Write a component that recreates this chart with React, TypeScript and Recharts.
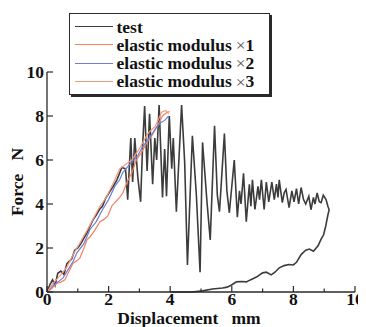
import { LineChart, Line, XAxis, YAxis, Legend } from "recharts";

// test curve (displacement mm, force N), loading -> fracture -> unloading
const testDisp = [
  0, 0.1, 0.18, 0.26, 0.35, 0.45, 0.55, 0.65, 0.8, 0.9, 1.0, 1.1, 1.2, 1.3, 1.4, 1.5, 1.6, 1.7, 1.8, 1.9,
  2.04, 2.15, 2.27, 2.43, 2.55, 2.62, 2.72, 2.78, 2.85, 2.95, 3.04, 3.1, 3.17, 3.25, 3.33, 3.43, 3.5, 3.56,
  3.64, 3.75, 3.82, 3.88, 3.97, 4.05, 4.1, 4.2, 4.37, 4.47, 4.56, 4.72, 4.85, 4.97, 5.05, 5.2, 5.3, 5.44,
  5.53, 5.6, 5.76, 5.84, 5.92, 6.08, 6.18, 6.25, 6.3, 6.38, 6.47, 6.57, 6.62, 6.67, 6.75, 6.85, 6.9, 6.96,
  7.05, 7.12, 7.2, 7.3, 7.38, 7.45, 7.5, 7.54, 7.64, 7.7, 7.76, 7.86, 7.95, 8.02, 8.1, 8.17, 8.25, 8.33,
  8.4, 8.5, 8.57, 8.65, 8.7, 8.77, 8.84, 8.9, 8.97, 9.06, 9.12, 9.16,
  9.12, 9.05, 8.98, 8.9, 8.8, 8.65, 8.52, 8.4, 8.25, 8.1, 8.0, 7.85, 7.7, 7.54, 7.4, 7.28, 7.12, 7.0, 6.8,
  6.6, 6.47, 6.3, 6.15, 5.99, 5.85, 5.7, 5.37, 5.05, 4.7, 4.3, 4.0,
];
const testForce = [
  0, 0.35, 0.55, 0.3, 0.85, 0.95, 0.8, 1.3, 1.5, 1.9, 2.0, 2.2, 2.45, 2.7, 3.0, 3.3, 3.5, 3.75, 3.9, 4.25,
  4.57, 4.8, 5.1, 5.66, 5.6, 4.2, 7.0, 5.0, 7.0, 5.2, 4.1, 6.5, 8.45, 5.5, 8.1, 4.9, 7.0, 6.0,
  8.5, 4.3, 6.5, 4.35, 8.0, 5.6, 7.0, 3.65, 8.5, 5.9, 1.23, 7.1, 4.4, 0.9, 6.8, 4.0, 2.37, 7.55,
  4.4, 3.65, 7.2, 4.6, 3.6, 6.0, 3.4, 4.6, 4.0, 5.4, 3.2, 4.9, 3.9, 5.1, 3.75, 4.8, 4.2, 5.1,
  3.75, 5.0, 4.1, 5.0, 4.2, 4.9, 4.3, 5.1, 4.06, 4.5, 4.66, 3.84, 4.6, 4.1, 4.7, 4.0, 4.75, 4.2,
  4.0, 4.35, 3.74, 4.3, 4.0, 4.5, 4.1, 4.06, 4.4, 4.2, 3.9, 3.74,
  3.5, 3.0, 2.6, 2.4, 2.1, 1.85, 1.95, 1.9, 1.7, 1.35, 1.23, 1.25, 1.2, 1.1, 0.9, 0.78, 0.9, 0.87, 0.68,
  0.55, 0.46, 0.48, 0.46, 0.32, 0.22, 0.18, 0.14, 0.05, 0, 0, 0,
];

// elastic modulus x1
const mod1Disp = [0, 0.15, 0.32, 0.45, 0.58, 0.7, 0.84, 1.0, 1.07, 1.2, 1.3, 1.39, 1.55, 1.72, 1.85, 1.97, 2.1, 2.2, 2.36, 2.46, 2.6, 2.75, 2.9, 3.05, 3.24, 3.4, 3.56, 3.75, 3.9, 3.98];
const mod1Force = [0, 0.15, 0.4, 0.45, 0.55, 0.9, 1.3, 1.45, 1.55, 2.0, 2.37, 2.5, 2.8, 3.2, 3.3, 3.45, 3.9, 4.06, 4.3, 4.5, 5.0, 5.4, 6.0, 6.3, 6.8, 7.1, 7.5, 8.0, 8.17, 8.2];

// elastic modulus x2
const mod2Disp = [0, 0.2, 0.35, 0.52, 0.7, 0.85, 0.97, 1.2, 1.39, 1.6, 1.8, 2.0, 2.2, 2.36, 2.46, 2.62, 2.78, 2.95, 3.1, 3.27, 3.42, 3.56, 3.7, 3.82, 3.95];
const mod2Force = [0, 0.3, 0.45, 0.64, 1.05, 1.4, 1.78, 2.2, 2.83, 3.2, 3.74, 4.2, 4.8, 5.1, 5.43, 5.7, 5.95, 6.2, 6.6, 6.9, 7.2, 7.5, 7.7, 7.8, 8.0];

// elastic modulus x3
const mod3Disp = [0, 0.2, 0.4, 0.65, 0.85, 1.07, 1.3, 1.49, 1.7, 1.94, 2.15, 2.36, 2.55, 2.75, 2.95, 3.15, 3.3, 3.5, 3.62, 3.72, 3.85, 3.95];
const mod3Force = [0, 0.4, 0.7, 1.14, 1.7, 2.24, 2.8, 3.3, 3.85, 4.34, 4.95, 5.6, 5.8, 6.0, 6.4, 6.9, 7.25, 7.5, 7.85, 8.17, 8.25, 8.1];

const seriesNames = ["test", "elastic modulus", "elastic modulus", "elastic modulus"];
const seriesFactors = ["", "1", "2", "3"];
const seriesColors = ["#3c3c3c", "#f3805e", "#6f7ed2", "#f59c7e"];
const axisTicks = [0, 1, 2, 3, 4, 5, 6, 7, 8, 9, 10];

const toPoints = (xs: number[], ys: number[]) => xs.map((x, i) => ({ x, y: ys[i] }));
const testData = toPoints(testDisp, testForce);
const mod1Data = toPoints(mod1Disp, mod1Force);
const mod2Data = toPoints(mod2Disp, mod2Force);
const mod3Data = toPoints(mod3Disp, mod3Force);

const font = "'Liberation Serif', 'Times New Roman', serif";
const ink = "#2a2a2a";
const labelStyle = { fontFamily: font, fontWeight: 700, fontSize: 17.5, fill: "#111" };

const isMajor = (v: number) => v % 2 === 0;

const LeftTick = ({ x, y, payload }: any) => (
  <g>
    <line x1={x} x2={x + (isMajor(payload.value) ? 6 : 3.5)} y1={y} y2={y} stroke={ink} strokeWidth={1.2} />
    {isMajor(payload.value) && (
      <text x={x - 3} y={y} dy="0.36em" textAnchor="end" style={labelStyle}>
        {payload.value}
      </text>
    )}
  </g>
);

const RightTick = ({ x, y, payload }: any) => (
  <line x1={x} x2={x - (isMajor(payload.value) ? 6 : 4)} y1={y} y2={y} stroke={ink} strokeWidth={1.2} />
);

const BottomTick = ({ x, y, payload }: any) => (
  <g>
    <line x1={x} x2={x} y1={y} y2={y - (isMajor(payload.value) ? 6 : 3.5)} stroke={ink} strokeWidth={1.2} />
    {isMajor(payload.value) && (
      <text x={x} y={y + 13} textAnchor="middle" style={labelStyle}>
        {payload.value}
      </text>
    )}
  </g>
);

const TopTick = ({ x, y, payload }: any) => (
  <line x1={x} x2={x} y1={y} y2={y + (isMajor(payload.value) ? 6 : 3.5)} stroke={ink} strokeWidth={1.2} />
);

const LegendBox = () => (
  <div
    style={{
      boxSizing: "border-box",
      width: 201,
      height: 82,
      border: `1.5px solid ${ink}`,
      boxShadow: `2px 2px 0 ${ink}`,
      background: "#fff",
      padding: "3.5px 0 0 4.5px",
      fontFamily: font,
      fontWeight: 700,
      fontSize: 17.5,
      lineHeight: "18.3px",
      color: "#111",
      overflow: "hidden",
    }}
  >
    {seriesNames.map((name, i) => (
      <div key={i} style={{ display: "flex", alignItems: "center", whiteSpace: "nowrap", height: 18.3 }}>
        <span style={{ display: "inline-block", width: 38, borderTop: `1.5px solid ${seriesColors[i]}`, marginRight: 4 }} />
        <span>{name}</span>
        {seriesFactors[i] && (
          <span style={{ fontWeight: 400, fontSize: 17.5, lineHeight: "16px", color: "#555", marginLeft: 4 }}>×</span>
        )}
        {seriesFactors[i] && <span>{seriesFactors[i]}</span>}
      </div>
    ))}
  </div>
);

export default function App() {
  return (
    <LineChart width={358} height={319} margin={{ top: 64, right: 11, bottom: 5, left: 9 }}>
      <XAxis
        dataKey="x"
        type="number"
        domain={[0, 10]}
        ticks={axisTicks}
        height={30}
        tickSize={0}
        tickMargin={0}
        tickLine={false}
        tick={<BottomTick />}
        axisLine={{ stroke: ink, strokeWidth: 1.3 }}
        label={({ viewBox }: any) => (
          <text x={viewBox.x + viewBox.width / 2 - 12} y={viewBox.y + 32} textAnchor="middle" style={labelStyle}>
            Displacement{"\u00a0\u00a0\u00a0"}mm
          </text>
        )}
      />
      <XAxis
        xAxisId="top"
        orientation="top"
        dataKey="x"
        type="number"
        domain={[0, 10]}
        ticks={axisTicks}
        height={0}
        tickSize={0}
        tickMargin={0}
        tickLine={false}
        tick={<TopTick />}
        axisLine={{ stroke: ink, strokeWidth: 1.3 }}
      />
      <YAxis
        type="number"
        domain={[0, 10]}
        ticks={axisTicks}
        width={30}
        tickSize={0}
        tickMargin={0}
        tickLine={false}
        tick={<LeftTick />}
        axisLine={{ stroke: ink, strokeWidth: 1.3 }}
        label={({ viewBox }: any) => {
          const cx = viewBox.x + 6;
          const cy = viewBox.y + viewBox.height / 2;
          return (
            <text x={cx} y={cy} transform={`rotate(-90 ${cx} ${cy})`} textAnchor="middle" style={labelStyle}>
              Force{"\u00a0\u00a0\u00a0"}N
            </text>
          );
        }}
      />
      <YAxis
        yAxisId="right"
        orientation="right"
        type="number"
        domain={[0, 10]}
        ticks={axisTicks}
        width={0}
        tickSize={0}
        tickMargin={0}
        tickLine={false}
        tick={<RightTick />}
        axisLine={{ stroke: ink, strokeWidth: 1.3 }}
      />
      <Line data={testData} dataKey="y" type="linear" stroke={seriesColors[0]} strokeWidth={1.6} dot={false} isAnimationActive={false} />
      <Line data={mod1Data} dataKey="y" type="linear" stroke={seriesColors[1]} strokeWidth={1.2} dot={false} isAnimationActive={false} />
      <Line data={mod2Data} dataKey="y" type="linear" stroke={seriesColors[2]} strokeWidth={1.2} dot={false} isAnimationActive={false} />
      <Line data={mod3Data} dataKey="y" type="linear" stroke={seriesColors[3]} strokeWidth={1.2} dot={false} isAnimationActive={false} />
      <Legend
        layout="vertical"
        align="center"
        verticalAlign="middle"
        content={<LegendBox />}
        wrapperStyle={{ left: 61, top: 5, width: 203, height: 84 }}
      />
    </LineChart>
  );
}
